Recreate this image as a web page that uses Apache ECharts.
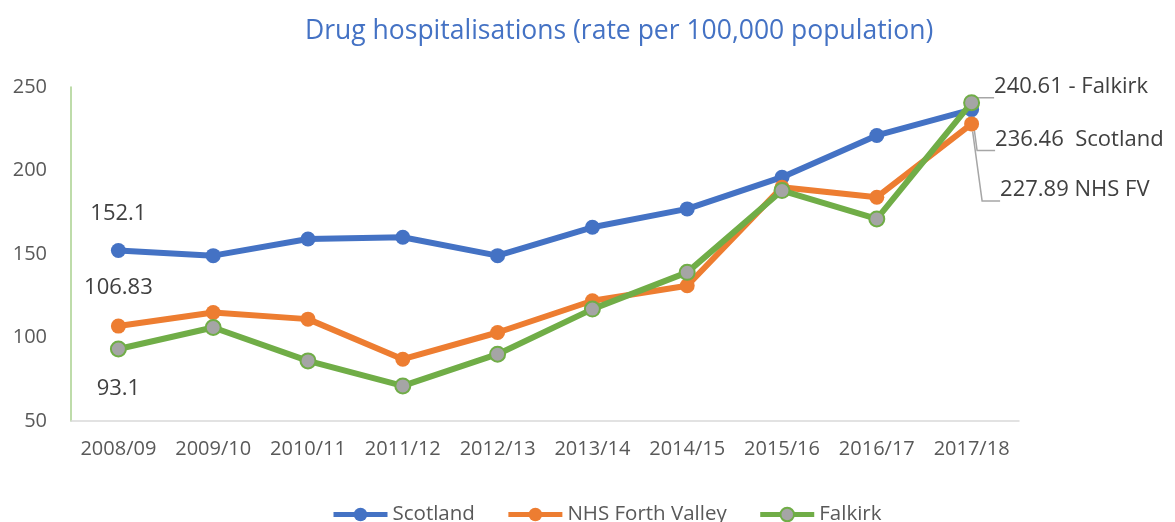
<!DOCTYPE html>
<html><head><meta charset="utf-8">
<script src="https://cdn.jsdelivr.net/npm/echarts@6/dist/echarts.min.js"></script>
<style>html,body{margin:0;padding:0;background:#fff}#c{width:1175px;height:522px}</style>
</head><body><div id="c"></div>
<script>
const categories = ['2008/09','2009/10','2010/11','2011/12','2012/13','2013/14','2014/15','2015/16','2016/17','2017/18'];
const scotland = [152.1, 149, 159, 160, 149, 166, 177, 196, 221, 236.46];
const nhsForthValley = [106.83, 115, 111, 87, 103, 122, 131, 190, 184, 227.89];
const falkirk = [93.1, 106, 86, 71, 90, 117, 139, 188, 171, 240.61];
const yTicks = {min: 50, max: 250, interval: 50};

const FONT = 'Open Sans';
const lbl = {color:'#404040', fontSize: 22, fontFamily: FONT};
const guide = {show:true, length2: 18, lineStyle:{color:'#a6a6a6', width:1.5}};

function build(vals, first, last) {
  return vals.map((v, i) => {
    if (i === 0) return {value: v, label: Object.assign({show:true, formatter:'{c}'}, lbl, first)};
    if (i === vals.length - 1) return {value: v, label: Object.assign({show:true}, lbl, last), labelLine: guide};
    return v;
  });
}

const chart = echarts.init(document.getElementById('c'), null, {renderer:'canvas'});
chart.setOption({
  animation: false,
  title: {text:'Drug hospitalisations (rate per 100,000 population)', left:300, top:13,
    textStyle:{color:'#4472C4', fontSize:26.5, fontWeight:'normal', fontFamily: FONT}},
  legend: {left: 326, bottom: -8, itemWidth: 54, itemHeight: 17, itemGap: 31,
    lineStyle:{width:5},
    textStyle:{color:'#595959', fontSize:20.5, fontFamily: FONT}},
  grid: {left:71, right:156, top:87, bottom:101},
  xAxis: {type:'category', data: categories, boundaryGap:true,
    axisLine:{lineStyle:{color:'#d9d9d9', width:1.5}}, axisTick:{show:false},
    axisLabel:{color:'#595959', fontSize:20, fontFamily: FONT, margin:18, interval:0}},
  yAxis: {type:'value', min:yTicks.min, max:yTicks.max, interval:yTicks.interval,
    axisLine:{show:true, lineStyle:{color:'#a9d18e', width:1.5}}, axisTick:{show:false},
    splitLine:{show:false},
    axisLabel:{color:'#595959', fontSize:20, fontFamily: FONT, margin:24}},
  series: [
    {name:'Scotland', type:'line', symbol:'circle', symbolSize:15,
     lineStyle:{color:'#4472C4', width:6}, itemStyle:{color:'#4472C4'},
     data: build(scotland, {position:'top', distance:18},
       {position:'right', offset:[11,30], formatter:'{c}  Scotland'}), z:3},
    {name:'NHS Forth Valley', type:'line', symbol:'circle', symbolSize:15,
     lineStyle:{color:'#ED7D31', width:6}, itemStyle:{color:'#ED7D31'},
     data: build(nhsForthValley, {position:'top', distance:20},
       {position:'right', offset:[16,66], formatter:'{c} NHS FV'}), z:4},
    {name:'Falkirk', type:'line', symbol:'circle', symbolSize:15,
     lineStyle:{color:'#70AD47', width:6}, itemStyle:{color:'#A5A5A5', borderColor:'#70AD47', borderWidth:2},
     data: build(falkirk, {position:'bottom', distance:20},
       {position:'right', offset:[9,-16], formatter:'{c} - Falkirk'}), z:5}
  ]
});
</script></body></html>
